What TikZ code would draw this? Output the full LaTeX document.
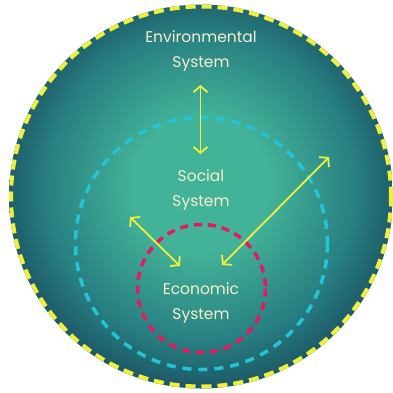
\documentclass[tikz,border=0pt]{standalone}
\usepackage{fontspec}
\setmainfont{Poppins}
\usetikzlibrary{arrows.meta}

\definecolor{tealL}{RGB}{66,178,152}
\definecolor{tealM}{RGB}{40,128,130}
\definecolor{tealD}{RGB}{24,74,92}
\definecolor{giallo}{RGB}{240,240,58}
\definecolor{ciano}{RGB}{36,196,216}
\definecolor{magenta}{RGB}{232,24,92}
\definecolor{crema}{RGB}{246,240,206}

\pgfdeclareradialshading{sfondo}{\pgfpoint{0bp}{2bp}}{%
  color(0bp)=(tealL); color(9bp)=(tealL); color(20bp)=(tealM); color(28bp)=(tealD); color(50bp)=(tealD)}

\tikzset{
  testo/.style={text=crema, align=center, font=\fontsize{15.5}{25}\selectfont},
  freccia/.style={color=giallo, line width=1.8pt, {Straight Barb[length=6pt,width=14pt]}-{Straight Barb[length=6pt,width=14pt]}}
}

\begin{document}
\begin{tikzpicture}[x=1pt, y=-1pt]
		\useasboundingbox (0,0) rectangle (393,392);
		% sfondo
		\shade[shading=sfondo] (201,196.5) circle[radius=192];
		
		% cerchi tratteggiati
		\draw[color=giallo, line width=4pt, dash pattern=on 10pt off 6pt] (201,196.5) circle[radius=190];
		\draw[color=ciano, line width=3.5pt, dash pattern=on 9pt off 7pt] (201.5,243.5) circle[radius=126];
		\draw[color=magenta, line width=3.5pt, dash pattern=on 8pt off 6pt] (201.5,288.5) circle[radius=64];
		
		% sistemi
		\node[testo] (env) at (201,51) {Environmental\\System};
		\node[testo] (soc) at (201,190) {Social\\System};
		\node[testo] (eco) at (201,303) {Economic\\System};
		
		% frecce
		\coordinate (A) at (200.5,85);
		\coordinate (B) at (200.5,154);
		\coordinate (C) at (130,217);
		\coordinate (D) at (180,266);
		\coordinate (E) at (329,157);
		\coordinate (F) at (222,265);
		\draw[freccia] (A) -- (B);
		\draw[freccia] (C) -- (D);
		\draw[freccia] (E) -- (F);
	\end{tikzpicture}
\end{document}
